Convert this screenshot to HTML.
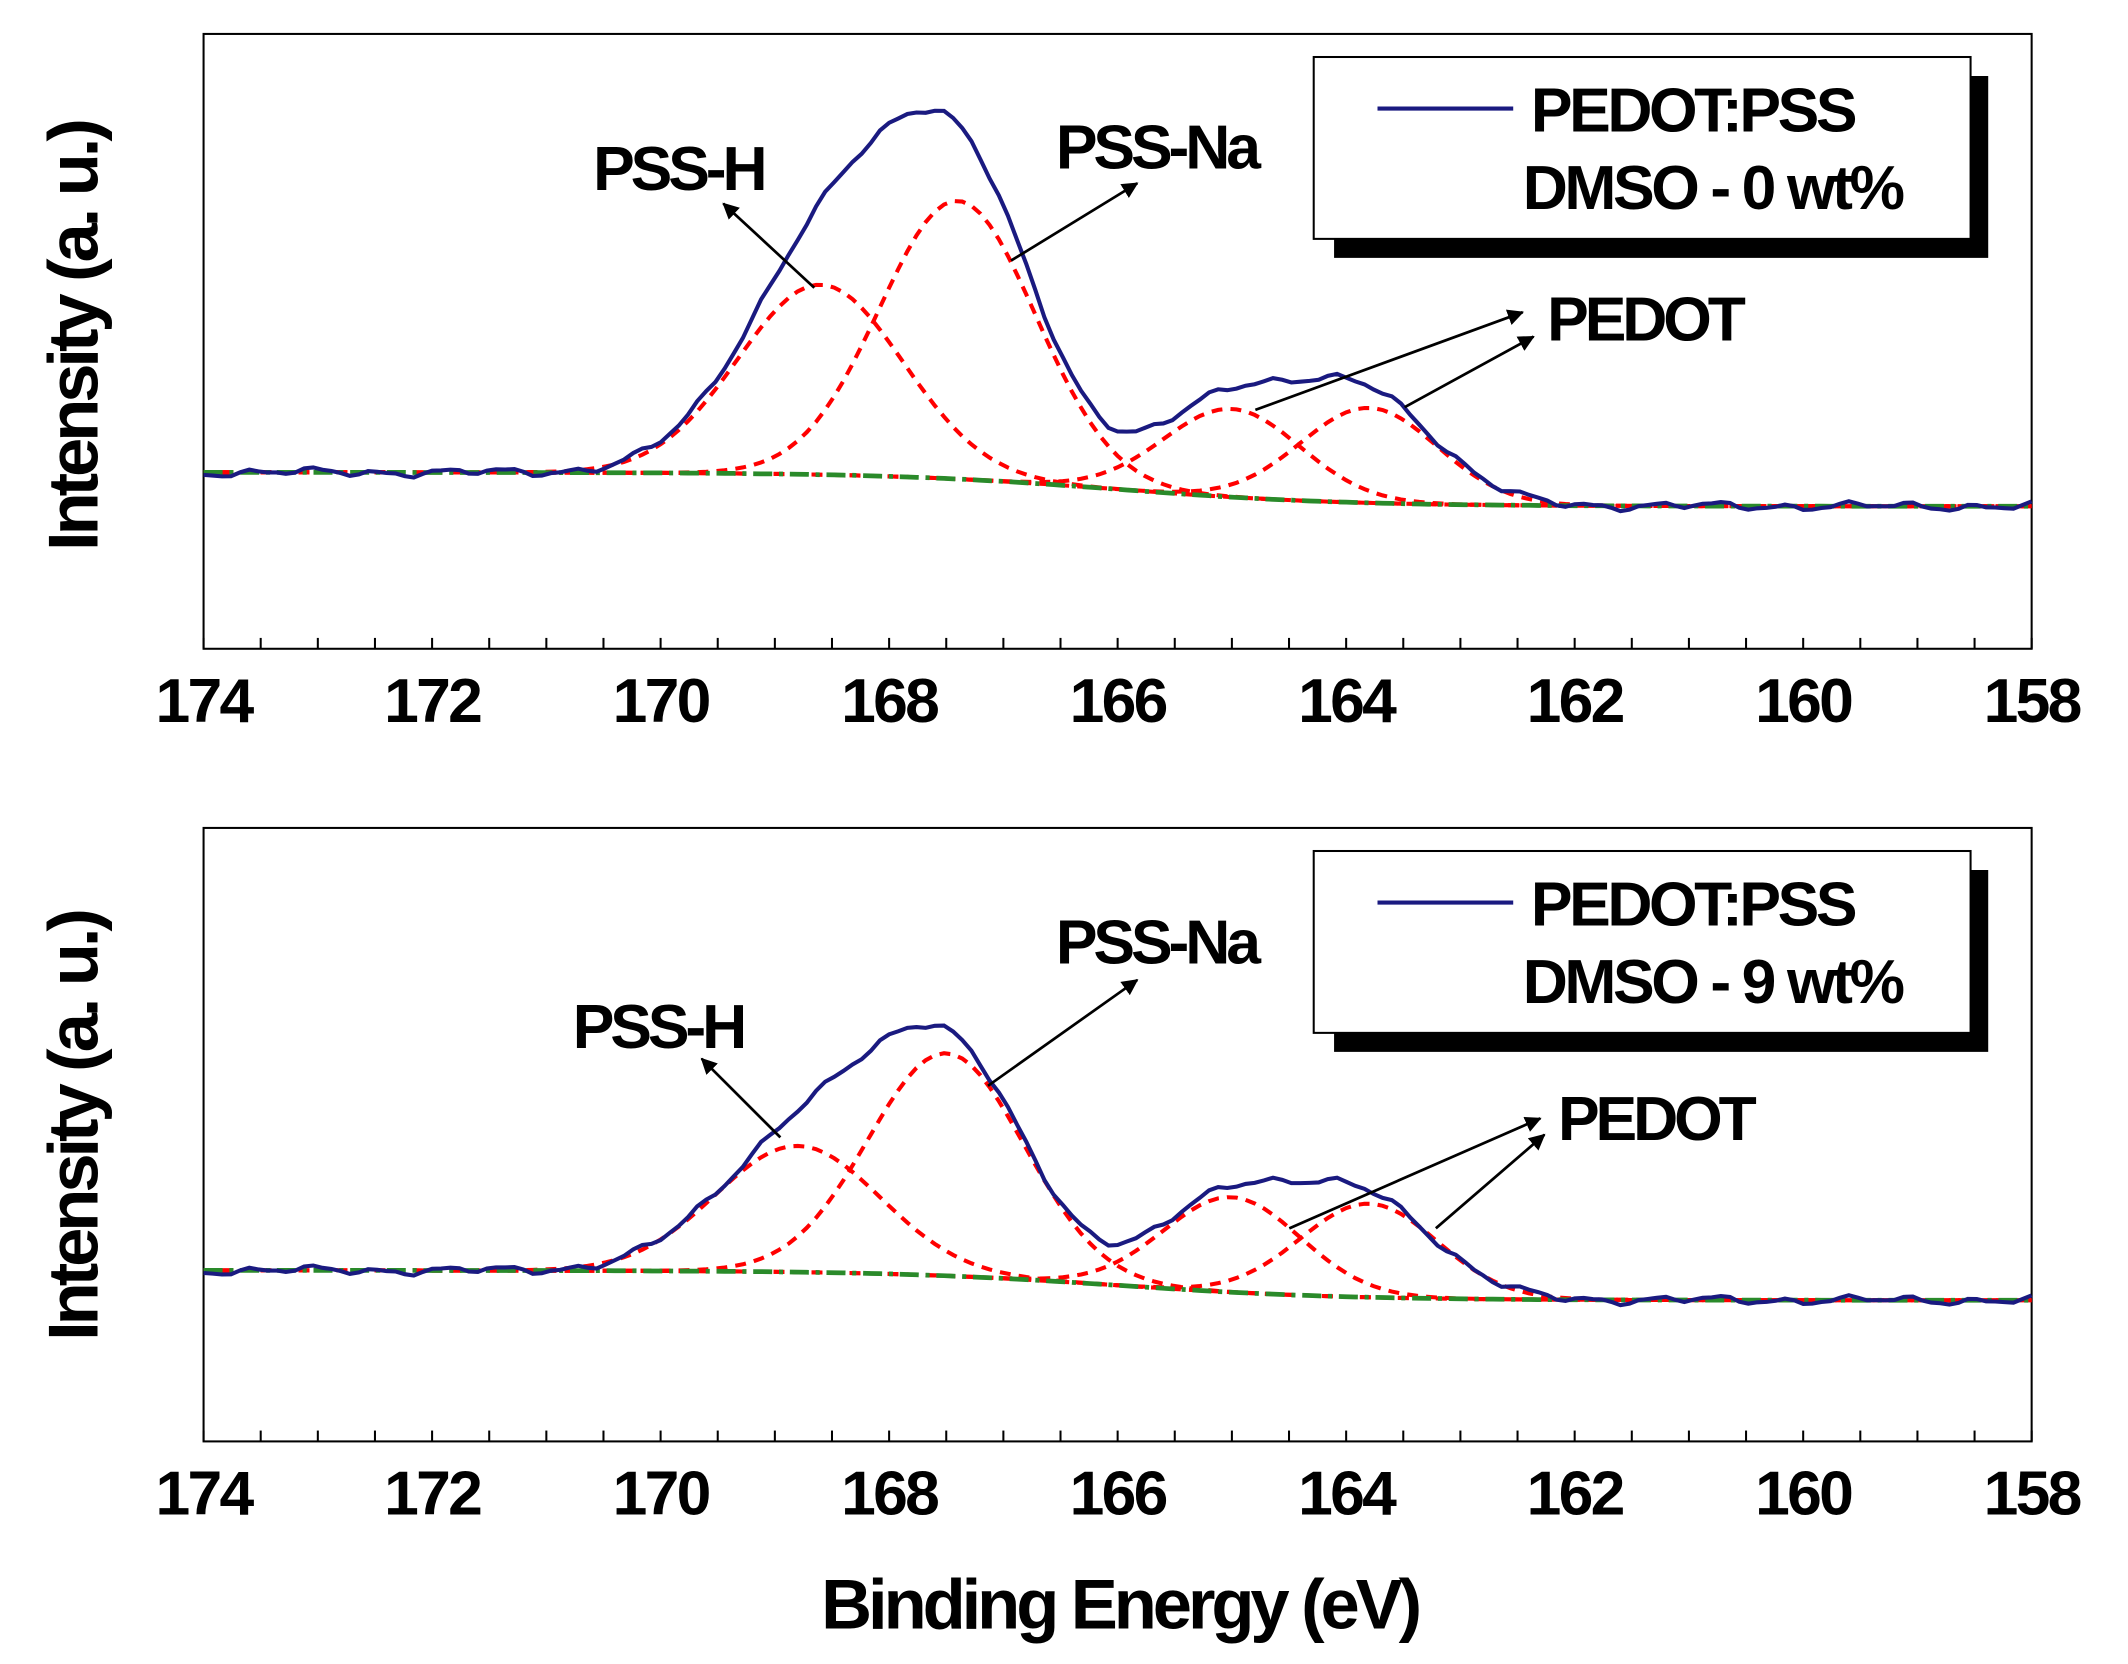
<!DOCTYPE html>
<html><head><meta charset="utf-8"><style>html,body{margin:0;padding:0;background:#fff}svg{display:block}</style></head>
<body>
<svg id="s" width="2128" height="1664" viewBox="0 0 1568 1226" preserveAspectRatio="none" xmlns="http://www.w3.org/2000/svg" font-family="Liberation Sans, Arial, sans-serif" font-weight="bold">
<defs><marker id="ah" markerWidth="12" markerHeight="12" refX="11" refY="6" orient="auto" markerUnits="userSpaceOnUse" viewBox="0 0 12 12"><path d="M0,0 L12,6 L0,12 z" fill="#000"/></marker></defs>
<rect width="1568" height="1226" fill="#fff"/>
<g id="plots"></g>
<g font-size="46" letter-spacing="-3" fill="#000">
<text x="437" y="140">PSS-H</text><text x="778" y="124">PSS-Na</text><text x="1140" y="251">PEDOT</text>
<text x="422" y="772">PSS-H</text><text x="778" y="710">PSS-Na</text><text x="1148" y="840">PEDOT</text>
<text x="825" y="1200" text-anchor="middle" font-size="52">Binding Energy (eV)</text>
<text transform="translate(72,248) rotate(-90)" text-anchor="middle" font-size="52">Intensity (a. u.)</text>
<text transform="translate(72,830) rotate(-90)" text-anchor="middle" font-size="52">Intensity (a. u.)</text>
</g>
<g stroke="#000" stroke-width="2" marker-end="url(#ah)">
<line x1="600" y1="212" x2="533" y2="150"/><line x1="745" y1="192" x2="838" y2="135"/>
<line x1="925" y1="302" x2="1122" y2="230"/><line x1="1035" y1="300" x2="1130" y2="248"/>
<line x1="575" y1="838" x2="517" y2="780"/><line x1="728" y1="800" x2="838" y2="722"/>
<line x1="950" y1="905" x2="1135" y2="824"/><line x1="1058" y1="905" x2="1138" y2="836"/>
</g>
</svg>
<script>
var g=document.getElementById('plots'),h='';
function X(e){return 150+(174-e)*84.19;}
function sig(e){return 1/(1+Math.exp((e-166)/1.0));}
function P(top,bot,b0,b1,pk,noise,mul,lab){
  h+='<rect x="150" y="'+top+'" width="1347" height="'+(bot-top)+'" fill="none" stroke="#000" stroke-width="1.5"/>';
  for(var e=174;e>=158;e-=0.5){var x=X(e);h+='<line x1="'+x+'" y1="'+bot+'" x2="'+x+'" y2="'+(bot-8)+'" stroke="#000" stroke-width="1.5"/>';
    if(e%2==0)h+='<text x="'+x+'" y="'+(bot+54)+'" text-anchor="middle" font-size="46" letter-spacing="-2">'+e+'</text>';}
  function base(e){return b0+(b1-b0)*sig(e);}
  var bp='',cp=['','','',''],ep='';
  var i=0;
  for(var e=174;e>=158-1e-9;e-=0.08){var x=X(e).toFixed(1),b=base(e),sum=0;
    for(var k=0;k<4;k++){var v=pk[k][1]*Math.exp(-Math.pow((e-pk[k][0])/pk[k][2],2)/2);sum+=v;cp[k]+=(cp[k]?'L':'M')+x+','+(b-v).toFixed(1);}
    bp+=(bp?'L':'M')+x+','+b.toFixed(1);
    var n=noise*(Math.sin(i*0.9)+0.7*Math.sin(i*0.33+1)+0.4*Math.sin(i*1.9+2));
    ep+=(ep?'L':'M')+x+','+(b-sum*mul+n).toFixed(1);i++;}
  for(var k=0;k<4;k++)h+='<path d="'+cp[k]+'" fill="none" stroke="#ff0000" stroke-width="3" stroke-dasharray="8,6"/>';
  h+='<path d="'+bp+'" fill="none" stroke="#2a8a2a" stroke-width="3.5" stroke-dasharray="14,5,3,5"/>';
  h+='<path d="'+ep+'" fill="none" stroke="#1a1a80" stroke-width="3"/>';
  var ly=top+17;
  h+='<rect x="983" y="'+(ly+14)+'" width="482" height="134" fill="#000"/><rect x="968" y="'+ly+'" width="484" height="134" fill="#fff" stroke="#000" stroke-width="1.5"/>';
  h+='<line x1="1015" y1="'+(ly+38)+'" x2="1115" y2="'+(ly+38)+'" stroke="#1a1a80" stroke-width="3"/>';
  h+='<text x="1128" y="'+(ly+55)+'" font-size="46" letter-spacing="-2.5">PEDOT:PSS</text>';
  h+='<text x="1122" y="'+(ly+112)+'" font-size="46" letter-spacing="-2.5">'+lab+'</text>';
}
P(25,478,348,373,[[168.6,140,0.72],[167.4,205,0.68],[165.0,65,0.6],[163.8,70,0.6]],2,1.09,'DMSO - 0 wt%');
P(610,1062,936,958,[[168.8,93,0.72],[167.5,164,0.68],[165.0,70,0.6],[163.8,69,0.6]],2,1.0,'DMSO - 9 wt%');
g.innerHTML=h;
</script>
</body></html>
